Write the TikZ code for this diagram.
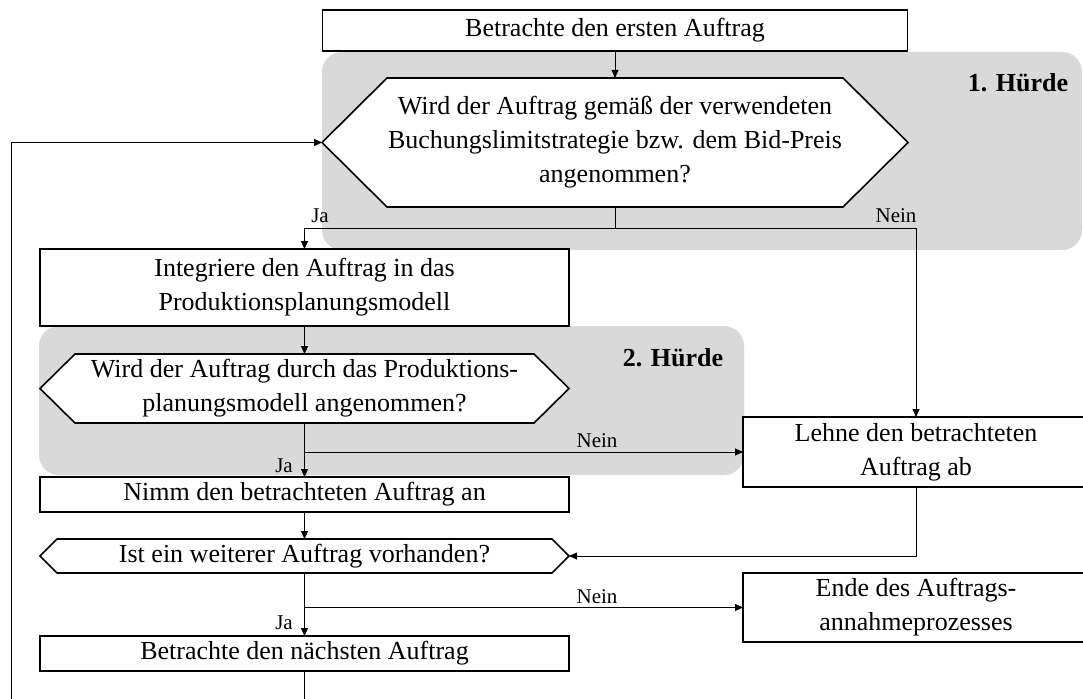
\documentclass[tikz,border=0pt]{standalone}
\usepackage{fontspec}
\setmainfont{Liberation Serif}
\usetikzlibrary{arrows.meta,calc}

% outline of a decision hexagon: centre x, centre y, width, height, inset of the points
\newcommand{\hexoutline}[5]{%
  \draw[hexline] (#1-#3/2,#2) -- (#1-#3/2+#5,#2-#4/2) -- (#1+#3/2-#5,#2-#4/2)
    -- (#1+#3/2,#2) -- (#1+#3/2-#5,#2+#4/2) -- (#1-#3/2+#5,#2+#4/2) -- cycle;}

\begin{document}
\begin{tikzpicture}[x=1pt,y=-1pt,
  every node/.style={inner sep=0pt,outer sep=0pt},
  txt/.style={font=\fontsize{26}{34}\selectfont,align=center},
  procbox/.style={txt,draw,line width=1.6pt,fill=white},
  hexline/.style={draw,line width=1.6pt,fill=white},
  zone/.style={fill=black!15,rounded corners=20pt},
  zonetitle/.style={font=\fontsize{26}{30}\selectfont\bfseries,anchor=base},
  lbl/.style={font=\fontsize{21}{24}\selectfont,anchor=base},
  conn/.style={line width=0.9pt,-{Triangle[length=8pt,width=7pt]}},
  plain/.style={line width=0.9pt}
]
\useasboundingbox (0,0) rectangle (1083,698);

% shaded hurdle zones
\fill[zone] (322,52) rectangle (1082,250);
\fill[zone] (39,326) rectangle (744,475);
\node[zonetitle] (h1) at (1018,92) {1. Hürde};
\node[zonetitle] (h2) at (673,366) {2. Hürde};

% process boxes
\node[procbox,minimum width=585,minimum height=41] (first) at (615,30.5) {Betrachte den ersten Auftrag};
\node[procbox,minimum width=529,minimum height=77] (integ) at (304.5,287.5) {Integriere den Auftrag in das\\Produktionsplanungsmodell};
\node[procbox,minimum width=529,minimum height=35] (accept) at (304.5,494.5) {Nimm den betrachteten Auftrag an};
\node[procbox,minimum width=529,minimum height=35] (next) at (304.5,653.5) {Betrachte den nächsten Auftrag};
\node[procbox,minimum width=346,minimum height=70] (reject) at (916,452) {Lehne den betrachteten\\Auftrag ab};
\node[procbox,minimum width=346,minimum height=69] (finish) at (916,607.5) {Ende des Auftrags-\\annahmeprozesses};

% decision hexagons
\hexoutline{615}{142.5}{586}{129}{65}
\node[txt,minimum width=586,minimum height=129] (q1) at (615,142.5) {Wird der Auftrag gemäß der verwendeten\\Buchungslimitstrategie bzw. dem Bid-Preis\\angenommen?};
\hexoutline{304.5}{388.5}{529}{69}{35}
\node[txt,minimum width=529,minimum height=69] (q2) at (304.5,388.5) {Wird der Auftrag durch das Produktions-\\planungsmodell angenommen?};
\hexoutline{304.5}{556}{529}{34}{17}
\node[txt,minimum width=529,minimum height=34] (q3) at (304.5,556) {Ist ein weiterer Auftrag vorhanden?};

% connectors
\coordinate (j1) at (615,228);
\coordinate (lp) at (11,720);
\draw[conn] (first.south) -- (q1.north);
\draw[plain] (q1.south) -- (j1);
\draw[conn] (j1) -| (integ.north);
\draw[conn] (j1) -| (reject.north);
\draw[conn] (integ.south) -- (q2.north);
\draw[conn] (q2.south) -- (accept.north);
\draw[conn] (q2.south |- reject.west) -- (reject.west);
\draw[conn] (accept.south) -- (q3.north);
\draw[conn] (reject.south) |- (q3.east);
\draw[conn] (q3.south) -- (next.north);
\draw[conn] (q3.south |- finish.west) -- (finish.west);
\draw[conn] (next.south) |- (lp) |- (q1.west);

% branch labels
\node[lbl] (ja1) at (320,222) {Ja};
\node[lbl] (nein1) at (896,222) {Nein};
\node[lbl] (nein2) at (597,447) {Nein};
\node[lbl] (ja2) at (284,472) {Ja};
\node[lbl] (nein3) at (597,603) {Nein};
\node[lbl] (ja3) at (284,629) {Ja};
\end{tikzpicture}
\end{document}
